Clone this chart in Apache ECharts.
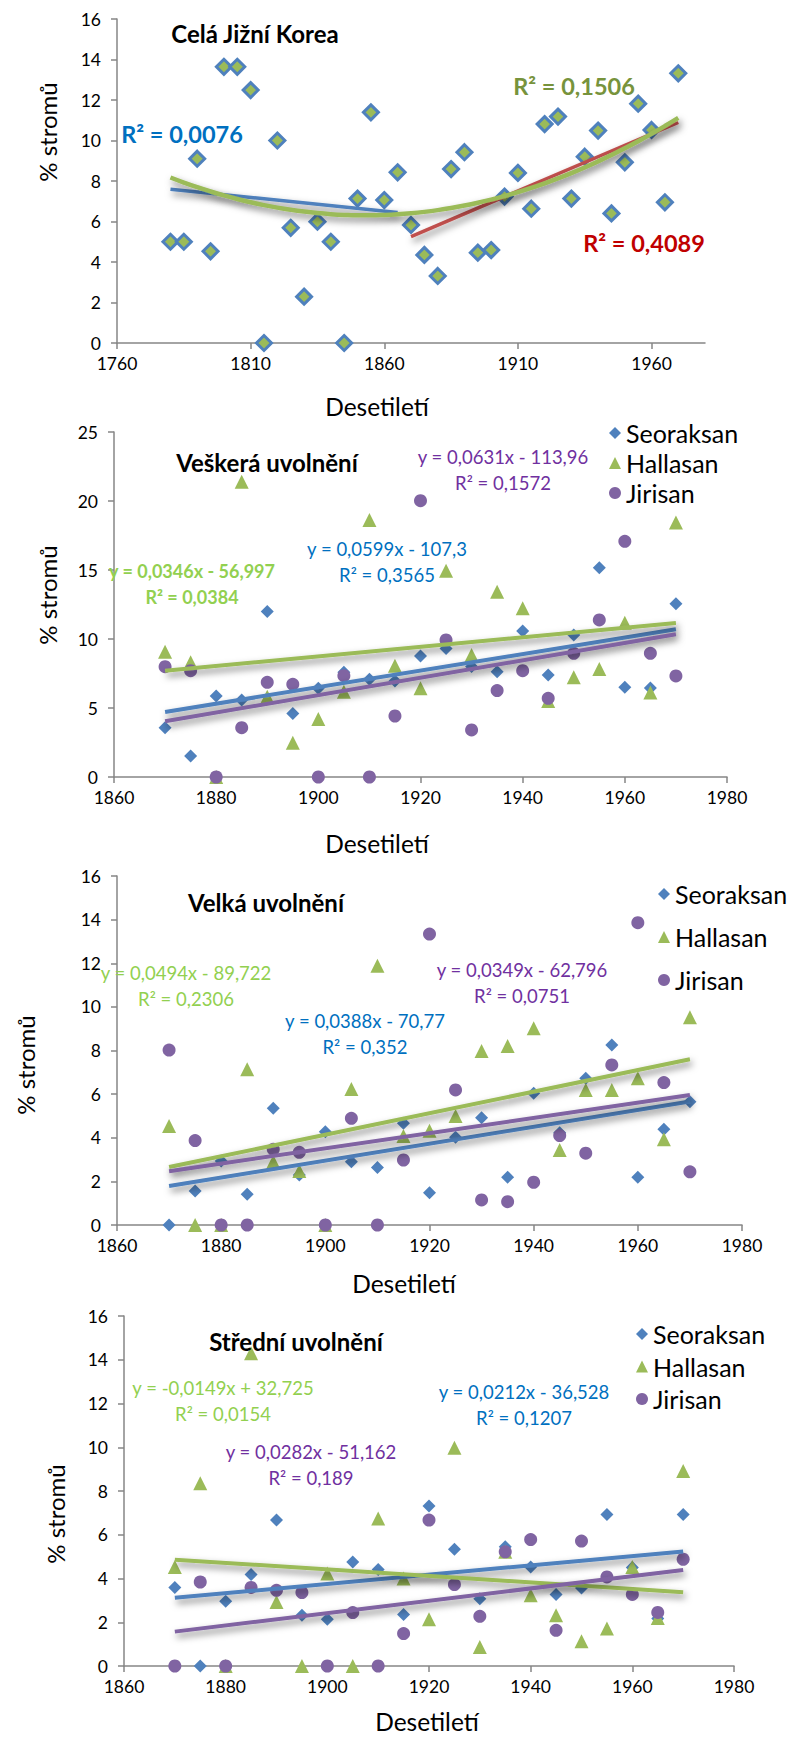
<!DOCTYPE html>
<html>
<head>
<meta charset="utf-8">
<script src="https://cdn.jsdelivr.net/npm/echarts@6/dist/echarts.min.js"></script>
<style>
html,body{margin:0;padding:0;background:#fff;}
#main{width:787px;height:1738px;}
</style>
</head>
<body>
<div id="main"></div>
<script>
// Celá Jižní Korea - desetiletí a % stromů
var koreaYears = [1780,1785,1790,1795,1800,1805,1810,1815,1820,1825,1830,1835,1840,1845,1850,1855,1860,1865,
	1870,1875,1880,1885,1890,1895,1900,1905,1910,1915,1920,1925,1930,1935,1940,1945,1950,1955,1960,1965,1970];
var koreaValues = [5.0,5.0,9.1,4.53,13.64,13.64,12.49,0,10.0,5.69,2.29,5.99,5.0,0,7.13,11.39,7.06,8.43,
	5.83,4.35,3.31,8.59,9.42,4.46,4.59,7.23,8.40,6.63,10.81,11.18,7.13,9.20,10.49,6.40,8.92,11.82,10.52,6.95,13.32];
var koreaR2 = [0.0076, 0.1506, 0.4089];   // modrá (do 1865), zelená (polynom), červená (od 1870)
var koreaXTicks = [1760,1810,1860,1910,1960];
var koreaXMax = 1980;

// ostatní grafy - desetiletí 1870-1970
var decades = [1870,1875,1880,1885,1890,1895,1900,1905,1910,1915,1920,1925,1930,1935,1940,1945,1950,1955,1960,1965,1970];
var decadeXTicks = [1860,1880,1900,1920,1940,1960,1980];

// Veškerá uvolnění
var allSeoraksan = [3.57,1.52,5.87,5.58,12.0,4.61,6.43,7.59,7.08,6.96,8.77,9.32,8.0,7.63,10.58,7.39,10.29,15.17,6.5,6.45,12.56];
var allHallasan  = [9.08,8.31,0,21.4,5.82,2.49,4.2,6.18,18.62,8.07,6.43,14.95,8.84,13.43,12.22,5.5,7.22,7.83,11.18,6.13,18.45];
var allJirisan   = [7.99,7.7,0,3.57,6.86,6.72,0,7.34,0,4.42,20.02,9.93,3.41,6.26,7.7,5.7,8.96,11.38,17.08,8.96,7.32];
var allSlope     = [0.0599, 0.0346, 0.0631];
var allIntercept = [-107.3, -56.997, -113.96];
var allR2        = [0.3565, 0.0384, 0.1572];
var pctTicks25 = [0,5,10,15,20,25];

// Velká uvolnění
var bigSeoraksan = [0,1.56,2.93,1.41,5.35,2.29,4.28,2.9,2.64,4.66,1.48,4.02,4.92,2.19,6.04,4.23,6.73,8.25,2.19,4.39,5.65];
var bigHallasan  = [4.54,0,0,7.14,2.9,2.48,0,6.24,11.88,4.08,4.32,5.0,7.98,8.21,9.02,3.44,6.19,6.19,6.73,3.93,9.52];
var bigJirisan   = [8.02,3.87,0,0,3.47,3.33,0,4.89,0,2.98,13.34,6.19,1.15,1.07,1.96,4.1,3.29,7.34,13.86,6.53,2.44];
var bigSlope     = [0.0388, 0.0494, 0.0349];
var bigIntercept = [-70.77, -89.722, -62.796];
var bigR2        = [0.352, 0.2306, 0.0751];

// Střední uvolnění
var midSeoraksan = [3.59,0,2.96,4.18,6.67,2.32,2.14,4.76,4.41,2.35,7.31,5.34,3.08,5.45,4.53,3.27,3.57,6.93,4.5,2.17,6.93];
var midHallasan  = [4.53,8.35,0,14.3,2.93,0,4.23,0,6.74,4.0,2.14,9.98,0.87,5.22,3.24,2.32,1.13,1.71,4.53,2.2,8.92];
var midJirisan   = [0,3.84,0,3.59,3.46,3.36,0,2.44,0,1.48,6.67,3.72,2.27,5.22,5.78,1.63,5.71,4.07,3.27,2.45,4.88];
var midSlope     = [0.0212, -0.0149, 0.0282];
var midIntercept = [-36.528, 32.725, -51.162];
var midR2        = [0.1207, 0.0154, 0.189];
var pctTicks16 = [0,2,4,6,8,10,12,14,16];

var names = ['Seoraksan','Hallasan','Jirisan'];
var symbols = ['diamond','triangle','circle'];
var colors = ['#4F81BD','#9BBB59','#8064A2'];
var labelColors = ['#0070C0','#92D050','#7030A0'];
var FONT = 'Lato';

//------------------------------------------------
function pairs(xs, ys) {
	var out = [];
	for (var i = 0; i < xs.length; i++) out.push([xs[i], ys[i]]);
	return out;
}
function fmt(n) {
	return String(n).replace('.', ',');
}
function eqText(slope, icpt, r2) {
	return 'y = ' + fmt(slope) + 'x ' + (icpt < 0 ? '- ' : '+ ') + fmt(Math.abs(icpt)) + '\nR² = ' + fmt(r2);
}
// lineární regrese y = a + b*x
function linFit(xs, ys) {
	var n = xs.length, mx = 0, my = 0, sxy = 0, sxx = 0;
	for (var i = 0; i < n; i++) { mx += xs[i]; my += ys[i]; }
	mx /= n; my /= n;
	for (var i = 0; i < n; i++) { sxy += (xs[i]-mx)*(ys[i]-my); sxx += (xs[i]-mx)*(xs[i]-mx); }
	var b = sxy / sxx;
	return function(x) { return my + b*(x-mx); };
}
// polynom 2. stupně
function quadFit(xs, ys) {
	var n = xs.length, c = 0;
	for (var i = 0; i < n; i++) c += xs[i];
	c /= n;
	var s = [0,0,0,0,0], t = [0,0,0];
	for (var i = 0; i < n; i++) {
		var u = xs[i]-c, p = 1;
		for (var k = 0; k < 5; k++) { s[k] += p; if (k < 3) t[k] += p*ys[i]; p *= u; }
	}
	var m = [[s[0],s[1],s[2],t[0]],[s[1],s[2],s[3],t[1]],[s[2],s[3],s[4],t[2]]];
	for (var col = 0; col < 3; col++) {
		for (var r = col+1; r < 3; r++) {
			var f = m[r][col]/m[col][col];
			for (var k = col; k < 4; k++) m[r][k] -= f*m[col][k];
		}
	}
	var q = [0,0,0];
	for (var r = 2; r >= 0; r--) {
		var v = m[r][3];
		for (var k = r+1; k < 3; k++) v -= m[r][k]*q[k];
		q[r] = v/m[r][r];
	}
	return function(x) { var u = x-c; return q[0] + q[1]*u + q[2]*u*u; };
}

var axisGray = '#868686';
function xAxisOf(gi, ticks, max, custom) {
	var ax = {
		type: 'value', gridIndex: gi, min: ticks[0], max: max, interval: ticks[1]-ticks[0],
		axisLine: {show: true, onZero: false, lineStyle: {color: axisGray, width: 1.5}},
		axisTick: {show: true, length: 6, lineStyle: {color: axisGray, width: 1.5}},
		axisLabel: {fontFamily: FONT, fontSize: 17.5, color: '#000', margin: 11,
			formatter: function(v) { return String(v); }},
		splitLine: {show: false}
	};
	if (custom) {
		ax.axisTick.customValues = ticks;
		ax.axisLabel.customValues = ticks;
	}
	return ax;
}
function yAxisOf(gi, ticks) {
	return {
		type: 'value', gridIndex: gi, min: ticks[0], max: ticks[ticks.length-1], interval: ticks[1]-ticks[0],
		axisLine: {show: true, lineStyle: {color: axisGray, width: 1.5}},
		axisTick: {show: true, length: 6, lineStyle: {color: axisGray, width: 1.5}},
		axisLabel: {fontFamily: FONT, fontSize: 17.5, color: '#000', margin: 16},
		splitLine: {show: false}
	};
}
function trendStyle(color, width) {
	return {color: color, width: width, shadowColor: 'rgba(0,0,0,0.5)', shadowBlur: 7, shadowOffsetX: 2, shadowOffsetY: 4};
}

var series = [];
// graf 1
var fitBlueYears = koreaYears.filter(function(y){ return y <= 1865; });
var fitBlue = linFit(fitBlueYears, koreaValues.slice(0, fitBlueYears.length));
var fitRedYears = koreaYears.filter(function(y){ return y >= 1870; });
var fitRed = linFit(fitRedYears, koreaValues.slice(fitBlueYears.length));
var fitGreen = quadFit(koreaYears, koreaValues);

series.push({
	type: 'scatter', name: 'Celá Jižní Korea', xAxisIndex: 0, yAxisIndex: 0,
	symbol: 'diamond', symbolSize: 15,
	itemStyle: {color: '#9BBB59', borderColor: '#4F81BD', borderWidth: 3, opacity: 1},
	data: pairs(koreaYears, koreaValues)
});
series.push({
	type: 'line', name: 'k-blue', xAxisIndex: 0, yAxisIndex: 0, z: 3, showSymbol: false, silent: true,
	lineStyle: trendStyle('#4F81BD', 3.5),
	data: [[fitBlueYears[0], fitBlue(fitBlueYears[0])], [fitBlueYears[fitBlueYears.length-1], fitBlue(fitBlueYears[fitBlueYears.length-1])]]
});
series.push({
	type: 'line', name: 'k-red', xAxisIndex: 0, yAxisIndex: 0, z: 3, showSymbol: false, silent: true,
	lineStyle: trendStyle('#C0504D', 3.5),
	data: [[fitRedYears[0], fitRed(fitRedYears[0])], [fitRedYears[fitRedYears.length-1], fitRed(fitRedYears[fitRedYears.length-1])]]
});
series.push({
	type: 'line', name: 'k-green', xAxisIndex: 0, yAxisIndex: 0, z: 4, showSymbol: false, silent: true, smooth: true,
	lineStyle: trendStyle('#9BBB59', 4.5),
	data: koreaYears.map(function(y){ return [y, fitGreen(y)]; })
});

// grafy 2-4
var panels = [
	{values: [allSeoraksan, allHallasan, allJirisan], slope: allSlope, icpt: allIntercept},
	{values: [bigSeoraksan, bigHallasan, bigJirisan], slope: bigSlope, icpt: bigIntercept},
	{values: [midSeoraksan, midHallasan, midJirisan], slope: midSlope, icpt: midIntercept}
];
panels.forEach(function(p, pi) {
	var gi = pi + 1;
	for (var s = 0; s < 3; s++) {
		series.push({
			type: 'scatter', name: names[s], xAxisIndex: gi, yAxisIndex: gi,
			symbol: symbols[s], symbolSize: s == 1 ? 14 : 13,
			itemStyle: {color: colors[s], opacity: 1},
			data: pairs(decades, p.values[s])
		});
	}
	for (var s = 0; s < 3; s++) {
		var x0 = decades[0], x1 = decades[decades.length-1];
		series.push({
			type: 'line', name: names[s] + ' trend', xAxisIndex: gi, yAxisIndex: gi, z: 3,
			showSymbol: false, silent: true,
			lineStyle: trendStyle(colors[s], 4),
			data: [[x0, p.slope[s]*x0 + p.icpt[s]], [x1, p.slope[s]*x1 + p.icpt[s]]]
		});
	}
});

function txt(x, y, text, size, color, weight, extra) {
	var el = {type: 'text', x: x, y: y, silent: true, z: 10,
		style: {text: text, fill: color, fontFamily: FONT, fontSize: size, fontWeight: weight || 'normal',
			align: 'center', verticalAlign: 'middle', lineHeight: 26}};
	if (extra) for (var k in extra) el[k] = extra[k];
	return el;
}
var rot = {rotation: Math.PI/2};
var graphic = [
	// nadpisy
	txt(255, 33, 'Celá Jižní Korea', 24, '#000', 'bold'),
	txt(267, 462, 'Veškerá uvolnění', 24, '#000', 'bold'),
	txt(266, 902, 'Velká uvolnění', 24, '#000', 'bold'),
	txt(296, 1341, 'Střední uvolnění', 24, '#000', 'bold'),
	// osy
	txt(47, 132, '% stromů', 24, '#000', 'normal', rot),
	txt(47, 595, '% stromů', 24, '#000', 'normal', rot),
	txt(25, 1065, '% stromů', 24, '#000', 'normal', rot),
	txt(55, 1514, '% stromů', 24, '#000', 'normal', rot),
	txt(377, 406, 'Desetiletí', 24.5, '#000'),
	txt(377, 843, 'Desetiletí', 24.5, '#000'),
	txt(404, 1283, 'Desetiletí', 24.5, '#000'),
	txt(427, 1721, 'Desetiletí', 24.5, '#000'),
	// R2 - graf 1
	txt(182, 134, 'R² = ' + fmt(koreaR2[0]), 23.5, '#0070C0', 'bold'),
	txt(574, 86, 'R² = ' + fmt(koreaR2[1]), 23.5, '#77933C', 'bold'),
	txt(644, 243, 'R² = ' + fmt(koreaR2[2]), 23.5, '#C00000', 'bold'),
	// rovnice - graf 2
	txt(387, 562, eqText(allSlope[0], allIntercept[0], allR2[0]), 18.5, labelColors[0]),
	txt(192, 584, eqText(allSlope[1], allIntercept[1], allR2[1]), 18, labelColors[1], 'bold'),
	txt(503, 470, eqText(allSlope[2], allIntercept[2], allR2[2]), 18.5, labelColors[2]),
	// graf 3
	txt(365, 1034, eqText(bigSlope[0], bigIntercept[0], bigR2[0]), 18.5, labelColors[0]),
	txt(186, 986, eqText(bigSlope[1], bigIntercept[1], bigR2[1]), 18.5, labelColors[1]),
	txt(522, 983, eqText(bigSlope[2], bigIntercept[2], bigR2[2]), 18.5, labelColors[2]),
	// graf 4
	txt(524, 1405, eqText(midSlope[0], midIntercept[0], midR2[0]), 18.5, labelColors[0]),
	txt(223, 1401, eqText(midSlope[1], midIntercept[1], midR2[1]), 18.5, labelColors[1]),
	txt(311, 1465, eqText(midSlope[2], midIntercept[2], midR2[2]), 18.5, labelColors[2])
];

function legendOf(left, top, gap) {
	return {
		left: left, top: top, orient: 'vertical', padding: 0, itemGap: gap,
		itemWidth: 12, itemHeight: 12, selectedMode: false,
		textStyle: {fontFamily: FONT, fontSize: 25, lineHeight: 25, color: '#000'},
		data: names.map(function(n, i){ return {name: n, icon: symbols[i]}; })
	};
}

var myChart = echarts.init(document.getElementById('main'), null, {renderer: 'svg'});
var option = {
	animation: false,
	backgroundColor: '#fff',
	grid: [
		{left: 117, top: 19, width: 588, height: 324},
		{left: 114, top: 432, width: 613, height: 345},
		{left: 117, top: 876, width: 625, height: 349},
		{left: 124, top: 1316, width: 610, height: 350}
	],
	xAxis: [
		xAxisOf(0, koreaXTicks, koreaXMax, true),
		xAxisOf(1, decadeXTicks, decadeXTicks[decadeXTicks.length-1]),
		xAxisOf(2, decadeXTicks, decadeXTicks[decadeXTicks.length-1]),
		xAxisOf(3, decadeXTicks, decadeXTicks[decadeXTicks.length-1])
	],
	yAxis: [
		yAxisOf(0, pctTicks16),
		yAxisOf(1, pctTicks25),
		yAxisOf(2, pctTicks16),
		yAxisOf(3, pctTicks16)
	],
	legend: [
		legendOf(609, 420.5, 5),
		legendOf(658, 881.5, 18),
		legendOf(636, 1321.5, 7.5)
	],
	series: series,
	graphic: graphic
};
myChart.setOption(option);
</script>
</body>
</html>
